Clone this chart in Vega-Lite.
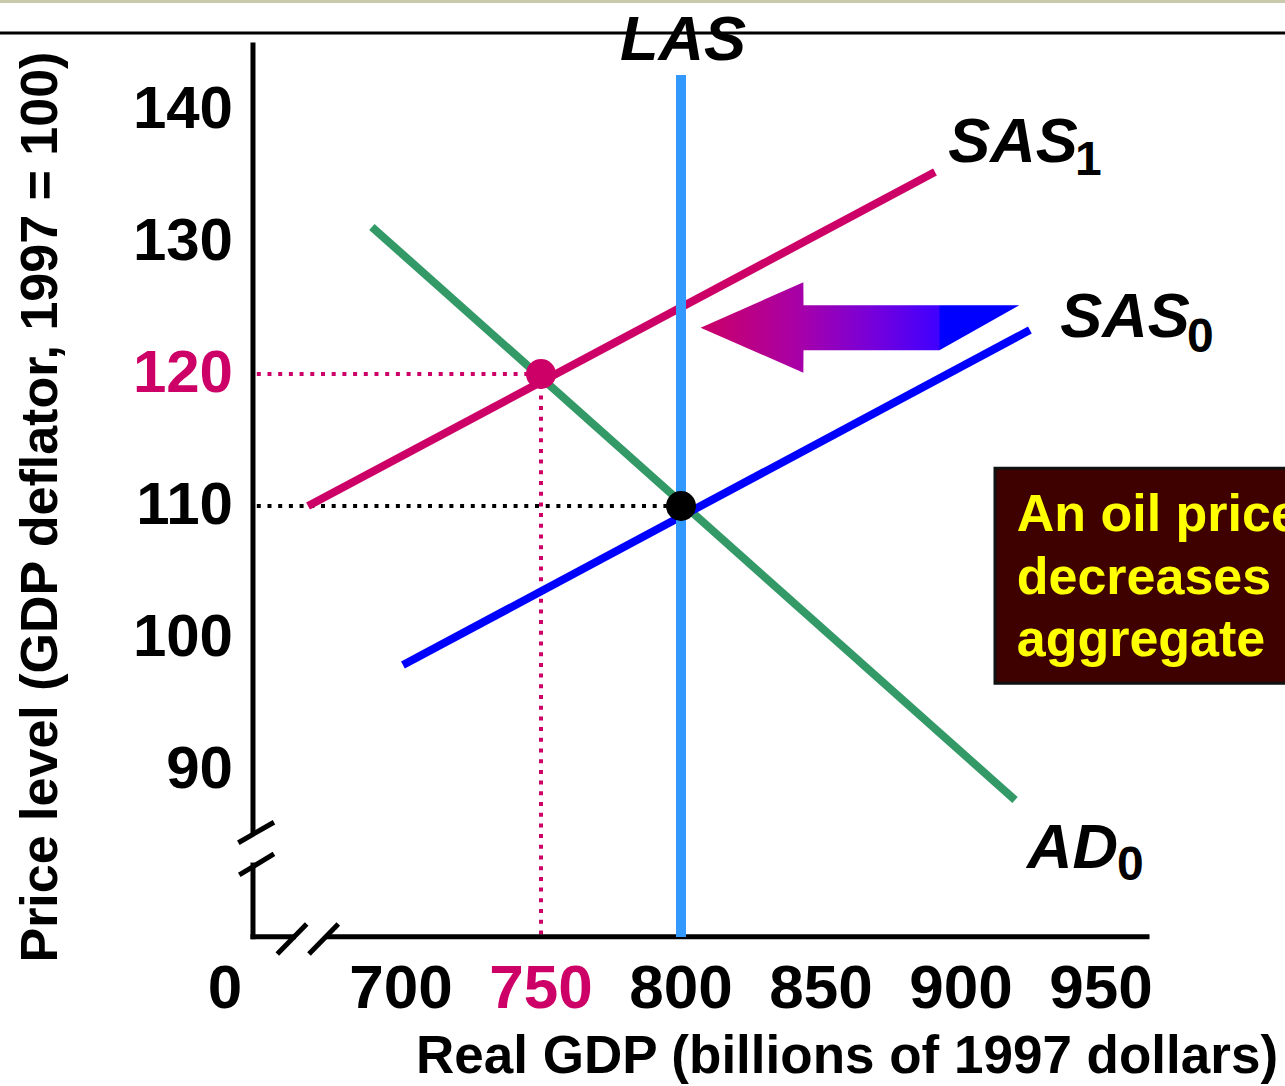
{
  "$schema": "https://vega.github.io/schema/vega-lite/v6.json",
  "width": 1285,
  "height": 1086,
  "padding": 0,
  "autosize": {"type": "none"},
  "background": "white",
  "config": {"view": {"stroke": null}, "text": {"font": "Liberation Sans", "fontWeight": "bold"}},
  "datasets": {
    "band": [{"x": 556.79, "x2": 1015.71, "y": 148.4, "y2": 148.1}],
    "slideLine": [{"x": 556.79, "x2": 1015.71, "y": 145.83, "y2": 145.83}],
    "guides": [
      {"g": "P110", "x": 648.5, "y": 110, "x2": 800, "y2": 110},
      {"g": "P120", "x": 648.5, "y": 120, "x2": 750, "y2": 120},
      {"g": "Y750", "x": 750, "y": 120, "x2": 750, "y2": 77.35}
    ],
    "axisLines": [
      {"seg": "y upper", "x": 647.14, "y": 144.92, "x2": 647.14, "y2": 85.33},
      {"seg": "y lower", "x": 647.14, "y": 82.8, "x2": 647.14, "y2": 77.37},
      {"seg": "x left", "x": 647.14, "y": 77.37, "x2": 661.5, "y2": 77.37},
      {"seg": "x main", "x": 674.04, "y": 77.37, "x2": 966.43, "y2": 77.37}
    ],
    "breaks": [
      {"seg": "y break 1", "x": 641.9, "y": 84.49, "x2": 654.64, "y2": 86.04},
      {"seg": "y break 2", "x": 642.25, "y": 82.05, "x2": 654.64, "y2": 83.64},
      {"seg": "x break 1", "x": 655.82, "y": 76.06, "x2": 666.32, "y2": 78.33},
      {"seg": "x break 2", "x": 667.14, "y": 76.06, "x2": 677.61, "y2": 78.33}
    ],
    "curves": [
      {"curve": "AD0", "x": 689.6, "y": 131.14},
      {"curve": "AD0", "x": 919.3, "y": 87.73},
      {"curve": "SAS0", "x": 700.7, "y": 97.95},
      {"curve": "SAS0", "x": 924.6, "y": 123.33},
      {"curve": "SAS1", "x": 666.8, "y": 110.0},
      {"curve": "SAS1", "x": 890.7, "y": 135.3}
    ],
    "las": [{"x": 800, "y": 142.65, "x2": 800, "y2": 77.35}],
    "arrow": [
      {"x": 807.0, "y": 123.5, "y2": 123.5},
      {"x": 843.7, "y": 126.95, "y2": 120.1},
      {"x": 843.75, "y": 125.2, "y2": 121.8},
      {"x": 892.3, "y": 125.2, "y2": 121.8},
      {"x": 920.8, "y": 125.2, "y2": 125.2}
    ],
    "points": [
      {"pt": "new", "x": 750, "y": 120},
      {"pt": "initial", "x": 800, "y": 110}
    ],
    "box": [{"x": 912.14, "x2": 1022, "y": 112.86, "y2": 96.57}],
    "boxText": [
      {"t": "An oil price", "x": 919.9, "y": 108.11},
      {"t": "decreases", "x": 919.9, "y": 103.33},
      {"t": "aggregate", "x": 919.9, "y": 98.64}
    ],
    "curveNames": [
      {"t": "LAS", "x": 778.2, "y": 143.79},
      {"t": "SAS", "x": 895.4, "y": 136.06},
      {"t": "SAS", "x": 935.4, "y": 122.8},
      {"t": "AD", "x": 923.6, "y": 82.58}
    ],
    "subs": [
      {"t": "1", "x": 940.7, "y": 135.08},
      {"t": "0", "x": 980.7, "y": 121.67},
      {"t": "0", "x": 955.7, "y": 81.67}
    ],
    "yTicks": [
      {"t": "140", "x": 640, "y": 140},
      {"t": "130", "x": 640, "y": 130},
      {"t": "120", "x": 640, "y": 120},
      {"t": "110", "x": 640, "y": 110},
      {"t": "100", "x": 640, "y": 100},
      {"t": "90", "x": 640, "y": 90}
    ],
    "xTicks": [
      {"t": "0", "x": 637.14, "y": 71.97},
      {"t": "700", "x": 700, "y": 71.97},
      {"t": "750", "x": 750, "y": 71.97},
      {"t": "800", "x": 800, "y": 71.97},
      {"t": "850", "x": 850, "y": 71.97},
      {"t": "900", "x": 900, "y": 71.97},
      {"t": "950", "x": 950, "y": 71.97}
    ],
    "xTitle": [{"t": "Real GDP (billions of 1997 dollars)", "x": 859.3, "y": 67.05}],
    "yTitle": [{"t": "Price level (GDP deflator, 1997 = 100)", "x": 577.14, "y": 109.92}]
  },
  "encoding": {
    "x": {"field": "x", "type": "quantitative", "scale": {"domain": [556.79, 1015.71], "nice": false, "zero": false}, "axis": null},
    "y": {"field": "y", "type": "quantitative", "scale": {"domain": [66.061, 148.333], "nice": false, "zero": false}, "axis": null}
  },
  "layer": [
    {
      "data": {"name": "band"},
      "mark": {"type": "rect", "color": "#c9c9ab"},
      "encoding": {"x2": {"field": "x2"}, "y2": {"field": "y2"}}
    },
    {
      "data": {"name": "slideLine"},
      "mark": {"type": "rule", "color": "black", "strokeWidth": 3},
      "encoding": {"x2": {"field": "x2"}, "y2": {"field": "y2"}}
    },
    {
      "data": {"name": "guides"},
      "mark": {"type": "rule", "strokeWidth": 4, "strokeDash": [4, 6.7]},
      "encoding": {
        "x2": {"field": "x2"}, "y2": {"field": "y2"},
        "color": {"condition": {"test": "datum.g == 'P110'", "value": "black"}, "value": "#cc0066"}
      }
    },
    {
      "data": {"name": "axisLines"},
      "mark": {"type": "rule", "color": "black", "strokeWidth": 5, "strokeCap": "square"},
      "encoding": {"x2": {"field": "x2"}, "y2": {"field": "y2"}}
    },
    {
      "data": {"name": "breaks"},
      "mark": {"type": "rule", "color": "black", "strokeWidth": 5, "strokeCap": "butt"},
      "encoding": {"x2": {"field": "x2"}, "y2": {"field": "y2"}}
    },
    {
      "data": {"name": "curves"},
      "mark": {"type": "line", "strokeWidth": 8, "strokeCap": "butt"},
      "encoding": {
        "detail": {"field": "curve"},
        "color": {"field": "curve", "type": "nominal", "scale": {"domain": ["AD0", "SAS0", "SAS1"], "range": ["#339966", "#0000ff", "#cc0066"]}, "legend": null}
      }
    },
    {
      "data": {"name": "las"},
      "mark": {"type": "rule", "color": "#3399ff", "strokeWidth": 10, "strokeCap": "butt"},
      "encoding": {"x2": {"field": "x2"}, "y2": {"field": "y2"}}
    },
    {
      "data": {"name": "arrow"},
      "mark": {
        "type": "area",
        "interpolate": "linear",
        "color": {
          "gradient": "linear", "x1": 0, "y1": 0, "x2": 1, "y2": 0,
          "stops": [
            {"offset": 0, "color": "#cc0066"},
            {"offset": 0.32, "color": "#a600aa"},
            {"offset": 0.55, "color": "#7400dc"},
            {"offset": 0.748, "color": "#4000ff"},
            {"offset": 0.752, "color": "#0000ff"},
            {"offset": 1, "color": "#0000ff"}
          ]
        }
      },
      "encoding": {"y2": {"field": "y2"}}
    },
    {
      "data": {"name": "points"},
      "mark": {"type": "circle", "opacity": 1, "size": 900},
      "encoding": {
        "color": {"condition": {"test": "datum.pt == 'new'", "value": "#cc0066"}, "value": "black"}
      }
    },
    {
      "data": {"name": "box"},
      "mark": {"type": "rect", "color": "#3f0000", "stroke": "#111111", "strokeWidth": 3},
      "encoding": {"x2": {"field": "x2"}, "y2": {"field": "y2"}}
    },
    {
      "data": {"name": "boxText"},
      "mark": {"type": "text", "align": "left", "baseline": "alphabetic", "fontSize": 52, "color": "#ffff00"},
      "encoding": {"text": {"field": "t"}}
    },
    {
      "data": {"name": "curveNames"},
      "mark": {"type": "text", "align": "left", "baseline": "alphabetic", "fontSize": 63, "fontStyle": "italic", "color": "black"},
      "encoding": {"text": {"field": "t"}}
    },
    {
      "data": {"name": "subs"},
      "mark": {"type": "text", "align": "left", "baseline": "alphabetic", "fontSize": 48, "color": "black"},
      "encoding": {"text": {"field": "t"}}
    },
    {
      "data": {"name": "yTicks"},
      "mark": {"type": "text", "align": "right", "baseline": "middle", "fontSize": 60},
      "encoding": {
        "text": {"field": "t"},
        "color": {"condition": {"test": "datum.t == '120'", "value": "#cc0066"}, "value": "black"}
      }
    },
    {
      "data": {"name": "xTicks"},
      "mark": {"type": "text", "align": "center", "baseline": "alphabetic", "fontSize": 62},
      "encoding": {
        "text": {"field": "t"},
        "color": {"condition": {"test": "datum.t == '750'", "value": "#cc0066"}, "value": "black"}
      }
    },
    {
      "data": {"name": "xTitle"},
      "mark": {"type": "text", "align": "center", "baseline": "alphabetic", "fontSize": 53, "color": "black"},
      "encoding": {"text": {"field": "t"}}
    },
    {
      "data": {"name": "yTitle"},
      "mark": {"type": "text", "align": "center", "baseline": "alphabetic", "fontSize": 52, "angle": 270, "color": "black"},
      "encoding": {"text": {"field": "t"}}
    }
  ]
}
